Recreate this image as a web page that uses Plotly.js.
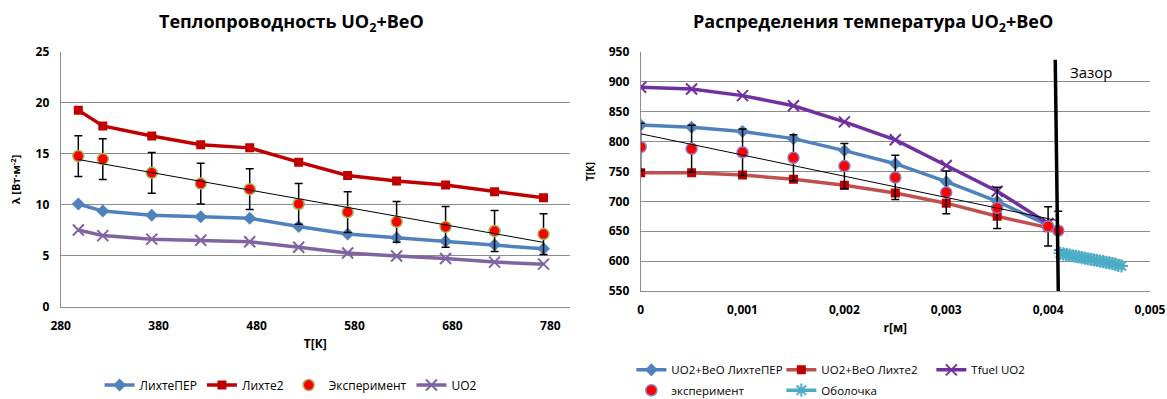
<!DOCTYPE html>
<html>
<head>
<meta charset="utf-8">
<script src="https://cdn.plot.ly/plotly-3.0.1.min.js"></script>
<style>html,body{margin:0;padding:0;background:#fff;}#chart{width:1167px;height:399px;}</style>
</head>
<body>
<div id="chart"></div>
<script>
// ---- Left chart: thermal conductivity ----
const tempK = [298, 323, 373, 423, 473, 523, 573, 623, 673, 723, 773];
const lichtePER = [10.1, 9.4, 9.0, 8.85, 8.7, 7.9, 7.15, 6.8, 6.45, 6.1, 5.7];
const lichte2 = [19.3, 17.75, 16.76, 15.9, 15.6, 14.2, 12.9, 12.35, 11.96, 11.3, 10.7];
const experiment = [14.8, 14.5, 13.15, 12.1, 11.55, 10.1, 9.3, 8.35, 7.85, 7.45, 7.15];
const uo2 = [7.55, 7.0, 6.65, 6.55, 6.4, 5.85, 5.3, 5.0, 4.75, 4.4, 4.2];
const experimentErr = 2;

// ---- Right chart: temperature distribution ----
const rFuel = [0, 0.0005, 0.001, 0.0015, 0.002, 0.0025, 0.003, 0.0035, 0.004];
const rFuelExt = [0, 0.0005, 0.001, 0.0015, 0.002, 0.0025, 0.003, 0.0035, 0.004, 0.0041];
const tLichtePER = [828, 824, 817, 805, 785, 763, 733, 700, 660];
const tLichte2 = [748, 748, 744, 737, 727, 714, 697, 675, 656, 651];
const tFuelUO2 = [891, 888, 877, 860, 833, 803, 760, 717, 663];
const tExperiment = [791, 788, 782, 773, 759, 740, 715, 689, 658, 651];
const tExperimentErrPct = 5;
const rClad = [0.00412, 0.00415, 0.00418, 0.00421, 0.00424, 0.00427, 0.0043, 0.00433, 0.00436, 0.00439, 0.00442,
               0.00445, 0.00448, 0.00451, 0.00454, 0.00457, 0.0046, 0.00463, 0.00466, 0.00469, 0.00472];
const tClad = [613, 612, 611, 610, 609, 608, 607, 606, 605, 604, 603,
               602, 601, 600, 599, 598, 597, 596, 595, 593, 592];
const gapR = [0.00407, 0.0041];
const gapT = [937, 547];
const gapLabel = 'Зазор';

function linFit(xs, ys) {
  const n = xs.length;
  const mx = xs.reduce((a, b) => a + b, 0) / n;
  const my = ys.reduce((a, b) => a + b, 0) / n;
  let sxy = 0, sxx = 0;
  for (let i = 0; i < n; i++) { sxy += (xs[i] - mx) * (ys[i] - my); sxx += (xs[i] - mx) * (xs[i] - mx); }
  const k = sxy / sxx, b = my - k * mx;
  const x0 = Math.min(...xs), x1 = Math.max(...xs);
  return {x: [x0, x1], y: [k * x0 + b, k * x1 + b]};
}
const fitL = linFit(tempK, experiment);
const fitR = linFit(rFuelExt, tExperiment);

const LW = 3.5;
const traces = [
  {x: tempK, y: lichtePER, name: 'ЛихтеПЕР', mode: 'lines+markers', xaxis: 'x', yaxis: 'y', legend: 'legend',
   line: {color: '#4F81BD', width: LW}, marker: {symbol: 'diamond', size: 10, color: '#4F81BD'}},
  {x: tempK, y: lichte2, name: 'Лихте2', mode: 'lines+markers', xaxis: 'x', yaxis: 'y', legend: 'legend',
   line: {color: '#C00000', width: LW}, marker: {symbol: 'square', size: 9, color: '#C00000'}},
  {x: tempK, y: experiment, name: 'Эксперимент', mode: 'markers', xaxis: 'x', yaxis: 'y', legend: 'legend',
   marker: {symbol: 'circle', size: 11, color: '#FF0000', line: {color: '#9BBB59', width: 1.5}},
   error_y: {type: 'constant', value: experimentErr, color: '#000', thickness: 1.5, width: 4}},
  {x: tempK, y: uo2, name: 'UO2', mode: 'lines+markers', xaxis: 'x', yaxis: 'y', legend: 'legend',
   line: {color: '#8064A2', width: LW}, marker: {symbol: 'x-thin', size: 11, color: '#8064A2', line: {color: '#8064A2', width: 2}}},
  {x: fitL.x, y: fitL.y, mode: 'lines', xaxis: 'x', yaxis: 'y', showlegend: false, hoverinfo: 'skip',
   line: {color: '#000', width: 1}},

  {x: rFuel, y: tLichtePER, name: 'UO2+BeO ЛихтеПЕР', mode: 'lines+markers', xaxis: 'x2', yaxis: 'y2', legend: 'legend2',
   line: {color: '#4F81BD', width: LW}, marker: {symbol: 'diamond', size: 10, color: '#4F81BD'}},
  {x: rFuelExt, y: tLichte2, name: 'UO2+BeO Лихте2', mode: 'lines+markers', xaxis: 'x2', yaxis: 'y2', legend: 'legend2',
   line: {color: '#C0504D', width: LW}, marker: {symbol: 'square', size: 9, color: '#C00000'}},
  {x: rFuel, y: tFuelUO2, name: 'Tfuel UO2', mode: 'lines+markers', xaxis: 'x2', yaxis: 'y2', legend: 'legend2',
   line: {color: '#7030A0', width: LW}, marker: {symbol: 'x-thin', size: 11, color: '#7030A0', line: {color: '#7030A0', width: 2}}},
  {x: rFuelExt, y: tExperiment, name: 'эксперимент', mode: 'markers', xaxis: 'x2', yaxis: 'y2', legend: 'legend3',
   marker: {symbol: 'circle', size: 11, color: '#FF0000', line: {color: '#8C7BC0', width: 1.5}},
   error_y: {type: 'percent', value: tExperimentErrPct, color: '#000', thickness: 1.5, width: 4}},
  {x: rClad, y: tClad, name: 'Оболочка', mode: 'lines+markers', xaxis: 'x2', yaxis: 'y2', legend: 'legend3',
   line: {color: '#4BACC6', width: LW}, marker: {symbol: 'asterisk', size: 11, color: '#4BACC6', line: {color: '#4BACC6', width: 2}}},
  {x: fitR.x, y: fitR.y, mode: 'lines', xaxis: 'x2', yaxis: 'y2', showlegend: false, hoverinfo: 'skip',
   line: {color: '#000', width: 1}},
  {x: gapR, y: gapT, mode: 'lines', xaxis: 'x2', yaxis: 'y2', showlegend: false, hoverinfo: 'skip', cliponaxis: false,
   line: {color: '#000', width: 3.5}}
];

const gridC = '#8c8c8c';
const tickF = {size: 12, weight: 'bold', color: '#000'};
const hidTick = {ticks: 'outside', ticklen: 8, tickcolor: 'rgba(0,0,0,0)'};
const legendBase = {orientation: 'h', font: {size: 12, color: '#000'}, bgcolor: 'rgba(0,0,0,0)', yanchor: 'middle', tracegroupgap: 0};
const legendRight = {font: {size: 11.5, color: '#000'}, xanchor: 'left', entrywidth: 105, entrywidthmode: 'pixels'};

const layout = {
  width: 1167, height: 399,
  margin: {l: 0, r: 0, t: 0, b: 0, autoexpand: false},
  paper_bgcolor: '#fff', plot_bgcolor: '#fff',
  separators: ', ',
  font: {family: 'Open Sans, sans-serif', size: 12, color: '#000'},
  showlegend: true,
  xaxis: Object.assign({domain: [0.052, 0.4884], anchor: 'y', range: [280, 800], tick0: 280, dtick: 100,
    showgrid: false, zeroline: false, showline: true, linecolor: gridC, linewidth: 1, tickfont: tickF, automargin: false,
    title: {text: 'Т[К]', font: {size: 12, weight: 'bold'}, standoff: 6}}, hidTick),
  yaxis: Object.assign({domain: [0.2306, 0.8697], anchor: 'x', range: [0, 25], dtick: 5,
    showgrid: true, gridcolor: gridC, zeroline: false, showline: true, linecolor: gridC, linewidth: 1, tickfont: tickF, automargin: false,
    title: {text: 'λ [Вт·м<sup>-2</sup>]', font: {size: 11, weight: 'bold'}, standoff: 12}}, hidTick),
  xaxis2: Object.assign({domain: [0.549, 0.9854], anchor: 'y2', range: [0, 0.005], tick0: 0, dtick: 0.001,
    showgrid: false, zeroline: false, showline: true, linecolor: gridC, linewidth: 1, tickfont: tickF, automargin: false,
    title: {text: 'r[м]', font: {size: 12, weight: 'bold'}, standoff: 6}}, hidTick),
  yaxis2: Object.assign({domain: [0.2707, 0.8697], anchor: 'x2', range: [550, 950], dtick: 50,
    showgrid: true, gridcolor: gridC, zeroline: false, showline: true, linecolor: gridC, linewidth: 1, tickfont: tickF, automargin: false,
    title: {text: 'T[K]', font: {size: 10, weight: 'bold'}, standoff: 12}}, hidTick),
  legend: Object.assign({}, legendBase, {x: 0.249, xanchor: 'center', y: 0.035}),
  legend2: Object.assign({}, legendBase, legendRight, {x: 0.541, y: 0.073}),
  legend3: Object.assign({}, legendBase, legendRight, {x: 0.541, y: 0.022}),
  annotations: [
    {text: 'Теплопроводность UO<sub>2</sub>+BeO', xref: 'paper', yref: 'paper', x: 0.25, y: 0.943, xanchor: 'center', yanchor: 'middle',
     showarrow: false, font: {size: 18, weight: 'bold', color: '#000'}},
    {text: 'Распределения температура UO<sub>2</sub>+BeO', xref: 'paper', yref: 'paper', x: 0.748, y: 0.943, xanchor: 'center', yanchor: 'middle',
     showarrow: false, font: {size: 18, weight: 'bold', color: '#000'}},
    {text: gapLabel, xref: 'x2', yref: 'y2', x: 0.0042, y: 917, xanchor: 'left', yanchor: 'middle',
     showarrow: false, font: {size: 15, color: '#000'}}
  ]
};

Plotly.newPlot('chart', traces, layout, {staticPlot: true, displayModeBar: false});
</script>
</body>
</html>
